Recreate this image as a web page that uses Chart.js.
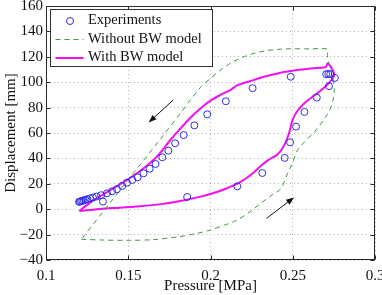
<!DOCTYPE html>
<html lang="en">
<head>
<meta charset="UTF-8">
<title>Displacement vs pressure - BW model</title>
<script src="https://cdn.jsdelivr.net/npm/chart.js"></script>
<style>
  html, body { margin: 0; padding: 0; background: #fff; }
  #wrap { width: 382px; height: 295px; }
</style>
</head>
<body>
<div id="wrap"><canvas id="grafico" width="382" height="295"></canvas></div>

<script>
    // eixos
    const xTicks = [0.1, 0.15, 0.2, 0.25, 0.3];
    const yTicks = [-40, -20, 0, 20, 40, 60, 80, 100, 120, 140, 160];
    const legendLabels = ['Experiments', 'Without BW model', 'With BW model'];

    // pontos experimentais (subida e depois descida)
    const expPressure = [0.1346, 0.1858, 0.2163, 0.2315, 0.2451, 0.2484, 0.252, 0.2571, 0.2646, 0.272, 0.2756,
        0.2728, 0.2716, 0.2703,
        0.2488, 0.2256, 0.2093, 0.198, 0.1902, 0.1837, 0.1785, 0.1744, 0.1707, 0.1666, 0.163, 0.1593, 0.1557,
        0.1524, 0.1492, 0.1463, 0.1431, 0.1402, 0.137, 0.1335, 0.1307, 0.1285, 0.1267, 0.1252, 0.124, 0.123,
        0.1221, 0.1213, 0.1206, 0.1201];
    const expDisp = [6.0, 9.6, 18.0, 28.5, 40.4, 52.7, 65, 76.6, 87.9, 96.9, 103.4,
        106.4, 106.5, 106.3,
        104.3, 95.3, 85, 74.7, 66, 58.4, 51.9, 46.1, 40.9, 35.6, 31.9, 28.3, 25.1,
        23, 20.9, 18.3, 15.7, 14.1, 12.5, 11, 10, 9.2, 8.5, 7.9, 7.4, 7,
        6.6, 6.3, 6.0, 5.8];

    // modelo sem BW (laco tracejado)
    const noBwPressure = [0.1215, 0.135, 0.15, 0.165, 0.18, 0.19, 0.2, 0.21, 0.2163, 0.2235, 0.2305, 0.2366,
        0.2427, 0.2468, 0.2498, 0.2529, 0.2575, 0.263, 0.2691, 0.2725, 0.2745, 0.2752, 0.2738, 0.272, 0.2711,
        0.2711, 0.26, 0.25, 0.2427, 0.2335, 0.2264, 0.2193, 0.2122, 0.2061, 0.2, 0.194, 0.1878, 0.1817, 0.17,
        0.15, 0.135, 0.1215];
    const noBwDisp = [-23.7, -24.3, -24.5, -24, -21.8, -19.5, -16.4, -11.8, -8.5, -2.5, 4.6, 10.5,
        16, 28, 36.5, 46.5, 53.5, 60.5, 71, 78, 86, 95, 106, 115, 121,
        126, 126.2, 126.3, 126, 124.8, 122.7, 119.5, 115, 109.5, 103, 96, 86, 75.5, 56,
        23.2, -1.5, -23.7];

    // modelo com BW
    const bwPressure = [0.1203, 0.133, 0.145, 0.1573, 0.17, 0.1817, 0.192, 0.202, 0.21, 0.2183, 0.225, 0.2305,
        0.2355, 0.2407, 0.2447, 0.2478, 0.2498, 0.2529, 0.2575, 0.263, 0.2685, 0.2725, 0.2752, 0.2745, 0.2713,
        0.2703, 0.2691, 0.2609, 0.2529, 0.2427, 0.2325, 0.2244, 0.2163, 0.2122, 0.2061, 0.2, 0.194, 0.1878,
        0.1817, 0.1756, 0.1675, 0.161, 0.1553, 0.148, 0.141, 0.133, 0.1268, 0.1203];
    const bwDisp = [-1.4, 0.2, 1.2, 2.3, 4, 6.5, 9.3, 12.8, 16.5, 21.5, 27.5, 34,
        39, 43, 50, 60, 70, 77.5, 84, 89.5, 95, 100, 105.5, 109, 114.8,
        112.2, 111.5, 110.8, 109.6, 107.5, 104.3, 101, 97.5, 94, 90, 85.5, 79.5, 72,
        63.5, 54.5, 41.5, 34, 28.3, 22, 16.5, 10.3, 5.2, -1.4];

    // setas indicando o sentido do ciclo [x0, y0, x1, y1]
    const arrows = [
        [0.1773, 86, 0.1624, 68.2],
        [0.2341, -7.2, 0.2508, 9.3]
    ];

    const serif = '"Liberation Serif", "DejaVu Serif", serif';
    const toPoints = (xs, ys) => xs.map((x, i) => ({ x: x, y: ys[i] }));

    const moldura = {
        id: 'moldura',
        afterDraw(chart) {
            const { ctx, chartArea: a, scales } = chart;
            const L = Math.round(a.left) + 0.5, R = Math.round(a.right) - 0.5;
            const T = Math.round(a.top) + 0.5, B = Math.round(a.bottom) - 0.5;
            ctx.save();
            ctx.strokeStyle = '#2a2a2a';
            ctx.lineWidth = 1;
            ctx.setLineDash([]);
            ctx.strokeRect(L, T, R - L, B - T);

            // ticks para dentro, estilo matlab
            ctx.beginPath();
            xTicks.forEach(v => {
                const px = Math.round(scales.x.getPixelForValue(v)) + 0.5;
                ctx.moveTo(px, B); ctx.lineTo(px, B - 4);
                ctx.moveTo(px, T); ctx.lineTo(px, T + 4);
            });
            yTicks.forEach(v => {
                const py = Math.round(scales.y.getPixelForValue(v)) + 0.5;
                ctx.moveTo(L, py); ctx.lineTo(L + 4, py);
                ctx.moveTo(R, py); ctx.lineTo(R - 4, py);
            });
            ctx.stroke();

            // setas
            ctx.strokeStyle = '#111';
            ctx.fillStyle = '#111';
            arrows.forEach(([x0, y0, x1, y1]) => {
                const ax = scales.x.getPixelForValue(x0), ay = scales.y.getPixelForValue(y0);
                const bx = scales.x.getPixelForValue(x1), by = scales.y.getPixelForValue(y1);
                const ang = Math.atan2(by - ay, bx - ax);
                ctx.beginPath();
                ctx.moveTo(ax, ay);
                ctx.lineTo(bx - 5 * Math.cos(ang), by - 5 * Math.sin(ang));
                ctx.stroke();
                ctx.beginPath();
                ctx.moveTo(bx, by);
                ctx.lineTo(bx - 8 * Math.cos(ang) + 3 * Math.sin(ang), by - 8 * Math.sin(ang) - 3 * Math.cos(ang));
                ctx.lineTo(bx - 8 * Math.cos(ang) - 3 * Math.sin(ang), by - 8 * Math.sin(ang) + 3 * Math.cos(ang));
                ctx.closePath();
                ctx.fill();
            });

            // legenda dentro do grafico
            const lx = Math.round(a.left) + 4.5, ly = Math.round(a.top) + 3.5;
            ctx.fillStyle = '#fff';
            ctx.fillRect(lx, ly, 162, 57);
            ctx.strokeStyle = '#333';
            ctx.strokeRect(lx, ly, 162, 57);
            const rows = [ly + 11, ly + 29.5, ly + 48];
            chart.data.datasets.forEach((ds, i) => {
                const y = rows[i];
                ctx.save();
                if (i === 0) {
                    ctx.strokeStyle = ds.borderColor;
                    ctx.lineWidth = 1;
                    ctx.beginPath();
                    ctx.arc(lx + 19.5, y + 0.5, 3.5, 0, Math.PI * 2);
                    ctx.stroke();
                } else {
                    ctx.strokeStyle = ds.borderColor;
                    ctx.lineWidth = ds.borderWidth;
                    ctx.setLineDash(ds.borderDash || []);
                    ctx.beginPath();
                    ctx.moveTo(lx + 5, y + 0.5);
                    ctx.lineTo(lx + 33, y + 0.5);
                    ctx.stroke();
                }
                ctx.restore();
                ctx.fillStyle = '#111';
                ctx.font = '14.5px ' + serif;
                ctx.textBaseline = 'middle';
                ctx.textAlign = 'left';
                ctx.fillText(legendLabels[i], lx + 37.5, y);
            });
            ctx.restore();
        }
    };

    const grafico = new Chart(document.getElementById('grafico').getContext('2d'), {
        type: 'scatter',
        data: {
            datasets: [{
                label: legendLabels[0],
                data: toPoints(expPressure, expDisp),
                borderColor: 'rgb(45, 45, 235)',
                backgroundColor: 'rgba(0,0,0,0)',
                pointRadius: 3.5,
                pointBorderWidth: 1,
                showLine: false
            }, {
                label: legendLabels[1],
                data: toPoints(noBwPressure, noBwDisp),
                borderColor: '#3d9a3d',
                borderWidth: 1,
                borderDash: [5, 4],
                pointRadius: 0,
                showLine: true,
                tension: 0.3
            }, {
                label: legendLabels[2],
                data: toPoints(bwPressure, bwDisp),
                borderColor: '#f010f0',
                borderWidth: 2,
                pointRadius: 0,
                showLine: true,
                tension: 0.3
            }]
        },
        options: {
            responsive: false,
            animation: false,
            devicePixelRatio: 1,
            layout: { padding: { top: 6, right: 7, left: 0, bottom: 0 } },
            plugins: {
                legend: { display: false },
                tooltip: { enabled: false }
            },
            scales: {
                x: {
                    type: 'linear',
                    min: 0.1,
                    max: 0.3,
                    afterBuildTicks: s => { s.ticks = xTicks.map(v => ({ value: v })); },
                    afterFit: s => { s.height = 35; s.paddingLeft = 0; s.paddingRight = 0; },
                    grid: { color: '#b4b4b4', drawTicks: false },
                    border: { display: false, dash: [1, 3] },
                    ticks: {
                        padding: 7,
                        color: '#111',
                        font: { family: serif, size: 15 },
                        callback: v => String(Number(v.toFixed(2)))
                    },
                    title: {
                        display: true,
                        text: 'Pressure [MPa]',
                        color: '#111',
                        font: { family: serif, size: 15 },
                        padding: { top: 0, bottom: 0 }
                    }
                },
                y: {
                    min: -40,
                    max: 160,
                    afterBuildTicks: s => { s.ticks = yTicks.map(v => ({ value: v })); },
                    afterFit: s => { s.width = 46; s.paddingTop = 0; s.paddingBottom = 0; },
                    grid: { color: '#b4b4b4', drawTicks: false },
                    border: { display: false, dash: [1, 3] },
                    ticks: {
                        padding: 3,
                        color: '#111',
                        font: { family: serif, size: 15 },
                        callback: v => v < 0 ? '\u2212' + Math.abs(v) : String(v)
                    },
                    title: {
                        display: true,
                        text: 'Displacement [mm]',
                        color: '#111',
                        font: { family: serif, size: 15 },
                        padding: { top: 2, bottom: 0 }
                    }
                }
            }
        },
        plugins: [moldura]
    });
</script>
</body>
</html>
